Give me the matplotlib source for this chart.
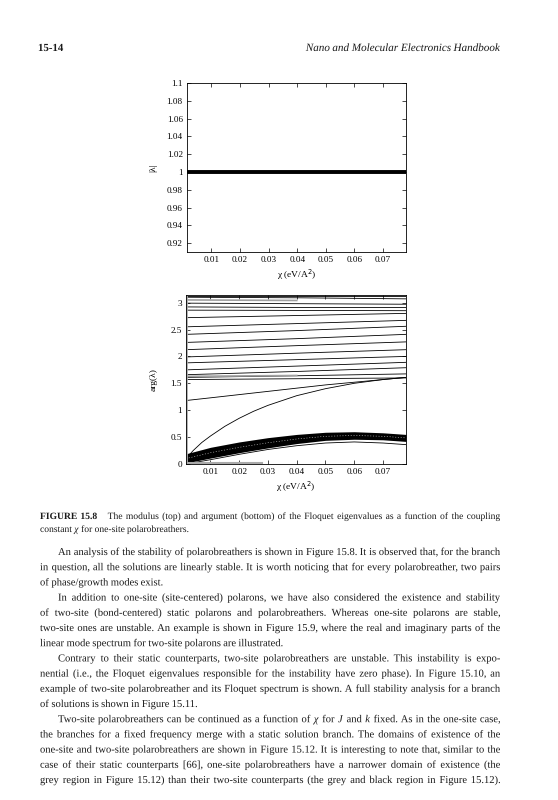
import numpy as np
import matplotlib.pyplot as plt
from matplotlib.textpath import TextPath
from matplotlib.patches import PathPatch
from matplotlib.font_manager import FontProperties
from matplotlib.transforms import Affine2D

W, H = 558, 800
SERIF = "Liberation Serif"

# ---- data ----
chi = [0.0015, 0.01, 0.02, 0.03, 0.04, 0.05, 0.06, 0.07, 0.078]
modulus = [1.0, 1.0, 1.0, 1.0, 1.0, 1.0, 1.0, 1.0, 1.0]

# arg(lambda): nearly flat branches in the upper part, at chi = start, 0.04, end
chi3 = [0.0015, 0.04, 0.078]
upper_left = [3.13, 3.10, 2.99, 2.92, 2.86, 2.72, 2.55, 2.41, 2.26, 2.125, 1.99, 1.88, 1.75, 1.66, 1.61, 1.57]
upper_mid = [3.13, 3.09, 2.98, 2.91, 2.855, 2.76, 2.61, 2.48, 2.33, 2.20, 2.06, 1.94, 1.82, 1.72, 1.64, 1.585]
upper_right = [3.13, 3.07, 2.97, 2.91, 2.85, 2.80, 2.67, 2.56, 2.41, 2.27, 2.125, 2.0, 1.89, 1.79, 1.675, 1.60]
grey_left = [3.05, 1.63]
grey_right = [3.03, 1.66]

# two rising branches
chi_c = [0.0015, 0.004, 0.007, 0.01, 0.015, 0.02, 0.025, 0.03, 0.04, 0.05, 0.06, 0.07, 0.078]
curve_low = [0.10, 0.25, 0.40, 0.52, 0.70, 0.85, 0.98, 1.09, 1.27, 1.40, 1.50, 1.57, 1.61]
curve_high = [1.18, 1.23, 1.29, 1.35, 1.41, 1.47, 1.52, 1.57, 1.61]

# dense band of eigenvalues near the bottom
band_top = [0.19, 0.31, 0.41, 0.49, 0.55, 0.59, 0.60, 0.58, 0.55]
band_bot = [0.02, 0.11, 0.21, 0.30, 0.38, 0.44, 0.46, 0.45, 0.42]
band_mid = [0.10, 0.21, 0.31, 0.395, 0.465, 0.515, 0.53, 0.515, 0.485]
thin_low = [0.0, 0.08, 0.18, 0.27, 0.34, 0.39, 0.41, 0.39, 0.36]
grey_zero_chi = [0.0015, 0.028]
grey_zero = [0.01, 0.01]

xticks = [0.01, 0.02, 0.03, 0.04, 0.05, 0.06, 0.07]
xlabels = ["0.01", "0.02", "0.03", "0.04", "0.05", "0.06", "0.07"]
y1ticks = [0.92, 0.94, 0.96, 0.98, 1.0, 1.02, 1.04, 1.06, 1.08, 1.1]
y1labels = ["0.92", "0.94", "0.96", "0.98", "1", "1.02", "1.04", "1.06", "1.08", "1.1"]
y2ticks = [0, 0.5, 1, 1.5, 2, 2.5, 3]
y2labels = ["0", "0.5", "1", "1.5", "2", "2.5", "3"]

header_left = "*15-14"
header_right = "_Nano _and _Molecular _Electronics _Handbook"
caption = [
    ("*FIGURE *15.8 The modulus (top) and argument (bottom) of the Floquet eigenvalues as a function of the coupling", True, False),
    ("constant _χ for one-site polarobreathers.", False, False),
]
body = [
    ("An analysis of the stability of polarobreathers is shown in Figure 15.8. It is observed that, for the branch", True, True),
    ("in question, all the solutions are linearly stable. It is worth noticing that for every polarobreather, two pairs", True, False),
    ("of phase/growth modes exist.", False, False),
    ("In addition to one-site (site-centered) polarons, we have also considered the existence and stability", True, True),
    ("of two-site (bond-centered) static polarons and polarobreathers. Whereas one-site polarons are stable,", True, False),
    ("two-site ones are unstable. An example is shown in Figure 15.9, where the real and imaginary parts of the", True, False),
    ("linear mode spectrum for two-site polarons are illustrated.", False, False),
    ("Contrary to their static counterparts, two-site polarobreathers are unstable. This instability is expo-", True, True),
    ("nential (i.e., the Floquet eigenvalues responsible for the instability have zero phase). In Figure 15.10, an", True, False),
    ("example of two-site polarobreather and its Floquet spectrum is shown. A full stability analysis for a branch", True, False),
    ("of solutions is shown in Figure 15.11.", False, False),
    ("Two-site polarobreathers can be continued as a function of _χ for _J and _k fixed. As in the one-site case,", True, True),
    ("the branches for a fixed frequency merge with a static solution branch. The domains of existence of the", True, False),
    ("one-site and two-site polarobreathers are shown in Figure 15.12. It is interesting to note that, similar to the", True, False),
    ("case of their static counterparts [66], one-site polarobreathers have a narrower domain of existence (the", True, False),
    ("grey region in Figure 15.12) than their two-site counterparts (the grey and black region in Figure 15.12).", True, False),
]


def style_axes(ax):
    ax.tick_params(direction="in", top=True, right=True, length=3, width=0.5,
                   labelsize=6.6, pad=3)
    for s in ax.spines.values():
        s.set_linewidth(0.6)
    ax.set_xlim(chi[0], chi[-1])
    ax.set_xticks(xticks)
    ax.set_xticklabels(xlabels, family=SERIF)
    ax.set_xlabel("χ (eV/A$^2$)", family=SERIF, fontsize=6.8, labelpad=2)


fig = plt.figure(figsize=(W / 100, H / 100), dpi=100)
fig.patch.set_facecolor("white")

# top panel: modulus
ax1 = fig.add_axes([187 / W, 1 - 252 / H, 219 / W, 169 / H])
ax1.plot(chi, modulus, color="black", lw=2.8)
ax1.set_ylim(0.91, 1.1)
ax1.set_yticks(y1ticks)
ax1.set_yticklabels(y1labels, family=SERIF)
style_axes(ax1)
ax1.set_ylabel("|λ|", family=SERIF, fontsize=6.8, labelpad=7)

# bottom panel: argument
ax2 = fig.add_axes([186 / W, 1 - 464 / H, 220 / W, 169 / H])
for a, b, c in zip(upper_left, upper_mid, upper_right):
    ax2.plot(chi3, [a, b, c], color="black", lw=0.6)
for a, c in zip(grey_left, grey_right):
    ax2.plot([chi3[0], chi3[1]], [a, (a + c) / 2], color="#a0a0a0", lw=1.2)
ax2.plot(chi_c, curve_low, color="black", lw=0.6)
ax2.plot(chi, curve_high, color="black", lw=0.6)
ax2.fill_between(chi, band_bot, band_top, color="black", lw=0)
ax2.plot(chi, band_mid, color="#d0d0d0", lw=0.4, ls=(0, (2, 3)))
ax2.plot(chi, thin_low, color="black", lw=0.6)
ax2.plot(grey_zero_chi, grey_zero, color="#aaaaaa", lw=1.5)
ax2.axvline(chi[0], color="#aaaaaa", lw=2.0)
ax2.set_ylim(0, np.pi)
ax2.set_yticks(y2ticks)
ax2.set_yticklabels(y2labels, family=SERIF)
style_axes(ax2)
ax2.set_ylabel("arg(λ)", family=SERIF, fontsize=6.8, labelpad=9)

# page text, drawn as glyph outlines so every word sits on one baseline
PX = 100 / 72


def word(tok, size):
    weight, style = "normal", "normal"
    if tok.startswith("*"):
        weight, tok = "bold", tok[1:]
    if tok.startswith("_"):
        style, tok = "italic", tok[1:]
    fp = FontProperties(family=SERIF, weight=weight, style=style)
    tp = TextPath((0, 0), tok, size=size, prop=fp)
    ext = tp.get_extents()
    return tp, max(ext.x1, 0) * PX


def set_line(text, x0, x1, y, size, justify, align="left"):
    toks = text.split(" ")
    paths = [word(t, size) for t in toks]
    widths = [w for _, w in paths]
    gap = size * PX * 0.25
    extra = 0
    if toks[0].startswith("*") and len(toks) > 1 and toks[1].startswith("*"):
        extra = 3 * gap
    if justify and len(paths) > 1:
        gap = (x1 - x0 - sum(widths) - extra) / (len(paths) - 1)
    if align == "right":
        x0 = x1 - (sum(widths) + gap * (len(paths) - 1))
    x = x0
    for i, (tp, w) in enumerate(paths):
        tr = Affine2D().scale(PX).translate(x, H - y)
        fig.add_artist(PathPatch(tp, transform=tr, fc="#1a1a1a", lw=0))
        x += w + gap
        if i == 1:
            x += extra


set_line(header_left, 38, 100, 51, 7.8, False)
set_line(header_right, 300, 500, 51, 8.0, False, align="right")

L, R = 40, 500
y = 519
for text, just, indent in caption:
    set_line(text, L, R, y, 6.9, just)
    y += 13

y = 555
for text, just, indent in body:
    set_line(text, L + (18 if indent else 0), R, y, 7.6, just)
    y += 15.2

fig.savefig("out.png", dpi=100, facecolor="white")
